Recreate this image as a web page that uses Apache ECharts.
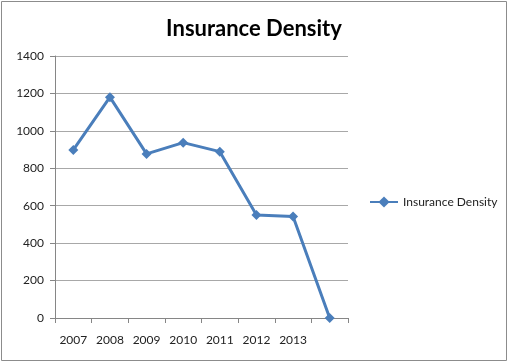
<!DOCTYPE html>
<html>
<head>
<meta charset="utf-8">
<script src="https://cdn.jsdelivr.net/npm/echarts@6/dist/echarts.min.js"></script>
<style>
html,body{margin:0;padding:0;background:#fff;}
#chart{width:508px;height:362px;}
</style>
</head>
<body>
<div id="chart"></div>
<script>
var categories = ['2007', '2008', '2009', '2010', '2011', '2012', '2013', ''];
var densityValues = [898, 1180, 877, 937, 889, 551, 542, 0];
var yTicks = { min: 0, max: 1400, interval: 200 };
var seriesName = 'Insurance Density';
var titleText = 'Insurance Density';

var chart = echarts.init(document.getElementById('chart'), null, { renderer: 'canvas' });
var font = 'Lato, "Open Sans", sans-serif';
chart.setOption({
  animation: false,
  backgroundColor: '#ffffff',
  graphic: [{
    type: 'rect',
    shape: { x: 1.5, y: 1.5, width: 505, height: 359 },
    style: { fill: 'none', stroke: '#8c8c8c', lineWidth: 1 },
    silent: true
  }],
  title: {
    text: titleText,
    left: 'center',
    top: 13,
    textStyle: { fontFamily: font, fontWeight: 'bold', fontSize: 22, color: '#000' }
  },
  legend: {
    left: 364,
    top: 191,
    itemWidth: 28,
    itemHeight: 14,
    textStyle: { fontFamily: font, fontSize: 12, color: '#222' },
    data: [seriesName]
  },
  grid: { left: 55, right: 160, top: 56, bottom: 44, containLabel: false },
  xAxis: {
    type: 'category',
    data: categories,
    boundaryGap: true,
    axisLine: { lineStyle: { color: '#868686', width: 1 } },
    axisTick: { show: true, interval: 0, length: 5, lineStyle: { color: '#868686' } },
    axisLabel: { interval: 0, margin: 16, fontFamily: font, fontSize: 12, color: '#222' },
    splitLine: { show: false }
  },
  yAxis: {
    type: 'value',
    min: yTicks.min,
    max: yTicks.max,
    interval: yTicks.interval,
    axisLine: { show: true, lineStyle: { color: '#868686', width: 1 } },
    axisTick: { show: true, length: 5, lineStyle: { color: '#868686' } },
    axisLabel: { margin: 11, fontFamily: font, fontSize: 12, color: '#222', formatter: function (v) { return String(v); } },
    splitLine: { show: true, lineStyle: { color: '#a8a8a8', width: 1 } }
  },
  series: [{
    name: seriesName,
    type: 'line',
    data: densityValues,
    symbol: 'diamond',
    symbolSize: 10,
    showAllSymbol: true,
    lineStyle: { color: '#4a7ebb', width: 3 },
    itemStyle: { color: '#4a7ebb' }
  }]
});
</script>
</body>
</html>
